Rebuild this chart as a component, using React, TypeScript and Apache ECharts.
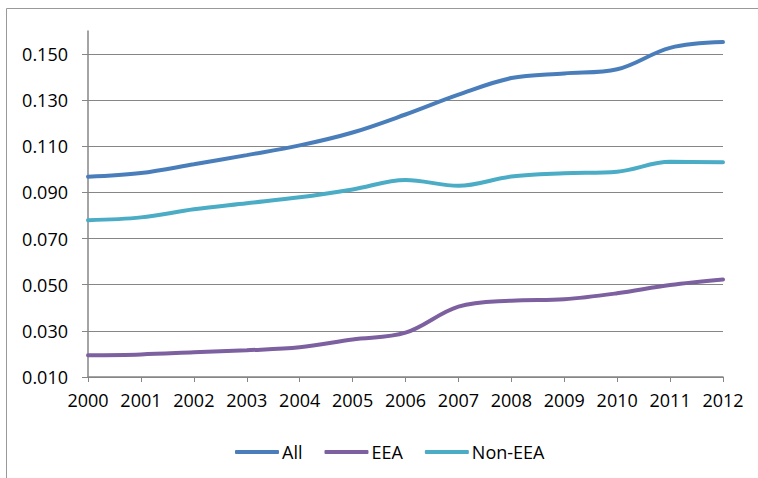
import React, { useEffect, useRef } from "react";
import * as echarts from "echarts";

const years = ["2000", "2001", "2002", "2003", "2004", "2005", "2006", "2007", "2008", "2009", "2010", "2011", "2012"];
const allValues = [0.0968, 0.0984, 0.1022, 0.1062, 0.1104, 0.1160, 0.1238, 0.1324, 0.1396, 0.1416, 0.1434, 0.1527, 0.1552];
const eeaValues = [0.0194, 0.0198, 0.0207, 0.0216, 0.0229, 0.0263, 0.0292, 0.0405, 0.0431, 0.0437, 0.0463, 0.0499, 0.0523];
const nonEeaValues = [0.0780, 0.0792, 0.0827, 0.0853, 0.0879, 0.0913, 0.0954, 0.0929, 0.0969, 0.0983, 0.0990, 0.1033, 0.1031];
const seriesNames = ["All", "EEA", "Non-EEA"];
const colors = ["#4A7EBB", "#7D60A0", "#4BACC6"];

const FONT = "'Open Sans', 'Noto Sans', sans-serif";
const GRAY = "#868686";
const FS = 18;

export default function App() {
  const ref = useRef<HTMLDivElement>(null);
  useEffect(() => {
    if (!ref.current) return;
    const chart = echarts.init(ref.current, undefined, { renderer: "svg" });
    const seriesData = [allValues, eeaValues, nonEeaValues];
    chart.setOption({
      animation: false,
      backgroundColor: "#ffffff",
      textStyle: { fontFamily: FONT },
      graphic: [
        {
          type: "rect",
          shape: { x: 6.5, y: 8.5, width: 900, height: 600 },
          style: { fill: "none", stroke: "#999999", lineWidth: 1 },
          silent: true,
        },
      ],
      grid: { left: 88, right: 35, top: 31, bottom: 101 },
      legend: {
        bottom: 17,
        left: 235,
        padding: 0,
        itemWidth: 44,
        itemHeight: 4,
        itemGap: 22,
        icon: "roundRect",
        data: seriesNames,
        textStyle: { fontFamily: FONT, fontSize: FS, color: "#000", padding: [0, 0, 0, -2] },
      },
      xAxis: {
        type: "category",
        data: years,
        boundaryGap: false,
        axisLine: { lineStyle: { color: GRAY, width: 1.5 } },
        axisTick: { show: true, length: 5, interval: 0, alignWithLabel: true, lineStyle: { color: GRAY } },
        axisLabel: { color: "#000", fontSize: FS, fontFamily: FONT, margin: 14, interval: 0, hideOverlap: false },
        splitLine: { show: false },
      },
      yAxis: {
        type: "value",
        min: 0.01,
        max: 0.16,
        interval: 0.02,
        axisLine: { show: true, lineStyle: { color: GRAY, width: 1.5 } },
        axisTick: { show: true, length: 6, lineStyle: { color: GRAY } },
        axisLabel: {
          color: "#000",
          fontSize: FS,
          fontFamily: FONT,
          margin: 20,
          showMaxLabel: false,
          formatter: (v: number) => v.toFixed(3),
        },
        splitLine: {
          show: true,
          lineStyle: {
            color: [GRAY, GRAY, GRAY, GRAY, GRAY, GRAY, GRAY, GRAY, "rgba(0,0,0,0)"],
            width: 1,
          },
        },
      },
      series: seriesNames.map((name, i) => ({
        name,
        type: "line",
        data: seriesData[i],
        smooth: 0.35,
        showSymbol: false,
        symbol: "none",
        lineStyle: { color: colors[i], width: 4, cap: "round" },
        itemStyle: { color: colors[i] },
      })),
    });
    return () => chart.dispose();
  }, []);
  return (
    <div
      ref={ref}
      style={{ position: "absolute", left: 0, top: 0, width: 758, height: 478 }}
    />
  );
}
